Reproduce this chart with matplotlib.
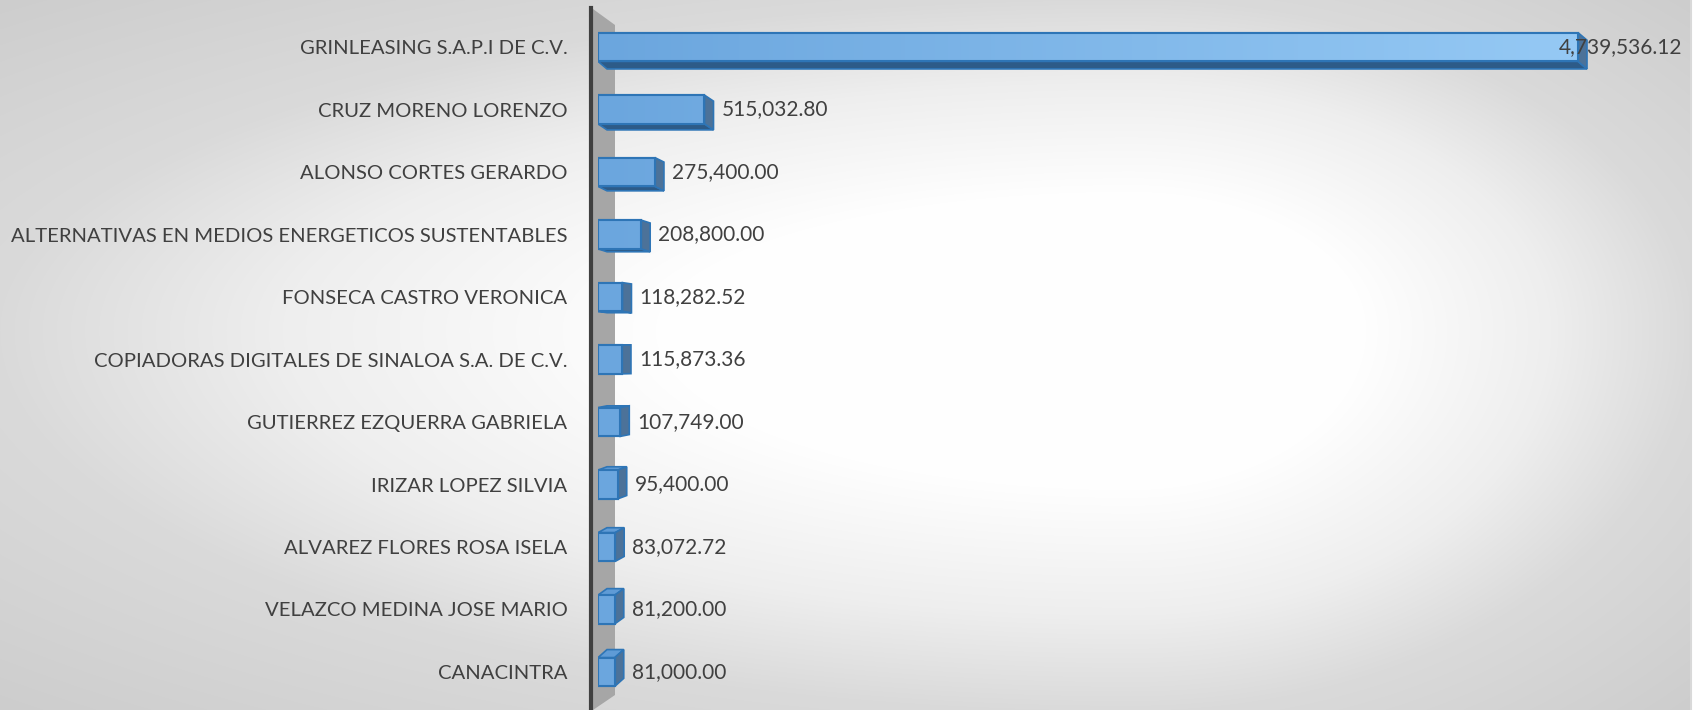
import numpy as np
import matplotlib
matplotlib.use('Agg')
from matplotlib import pyplot as plt, patches as mpatches
from matplotlib.colors import LinearSegmentedColormap

# Data (top to bottom)
categories = ['GRINLEASING S.A.P.I DE C.V.',
              'CRUZ MORENO LORENZO',
              'ALONSO CORTES GERARDO',
              'ALTERNATIVAS EN MEDIOS ENERGETICOS SUSTENTABLES',
              'FONSECA CASTRO VERONICA',
              'COPIADORAS DIGITALES DE SINALOA S.A. DE C.V.',
              'GUTIERREZ EZQUERRA GABRIELA',
              'IRIZAR LOPEZ SILVIA',
              'ALVAREZ FLORES ROSA ISELA',
              'VELAZCO MEDINA JOSE MARIO',
              'CANACINTRA']
values = [4739536.12, 515032.80, 275400.00, 208800.00, 118282.52,
          115873.36, 107749.00, 95400.00, 83072.72, 81200.00, 81000.00]

W, H = 1704, 710
plt.rcParams['font.family'] = ['Lato', 'DejaVu Sans']
fig = plt.figure(figsize=(W / 100, H / 100), dpi=100)
fig.patch.set_facecolor('white')

# background: radial-ish gradient, white near centre right
plot_w = 1691
bg = fig.add_axes([0, 0, plot_w / W, 1])
xx, yy = np.meshgrid(np.arange(plot_w), np.arange(H))
cx, cy = 1130, 330
ex = np.where(xx < cx, cx, plot_w - cx)
ey = np.where(yy < cy, cy, H - cy)
t = np.sqrt(((xx - cx) / ex) ** 2 + ((yy - cy) / ey) ** 2)
g = np.interp(t, [0, 0.42, 0.75, 1.0, 1.45], [255, 254, 238, 218, 204]) / 255
bg.imshow(np.dstack([g, g, g]), aspect='auto', interpolation='bilinear')
bg.axis('off')
fig.add_artist(plt.Line2D([plot_w / W, plot_w / W], [0, 1], color='#d9d9d9', lw=1.5))

# main axes
x0_px = 598
ax = fig.add_axes([x0_px / W, 0, (plot_w - x0_px) / W, 1])
ax.patch.set_alpha(0)
n = len(values)
ypos = np.arange(n)[::-1]
row_px = 62.5
xmax = values[0] * (plot_w - x0_px) / 980
ax.set_xlim(0, xmax)
ax.set_ylim(-(H - 672) / row_px, (n - 1) + 47 / row_px)
xpd = xmax / (plot_w - x0_px)   # data per pixel
ypd = 1 / row_px

def px(x, y):
    return (x / W, 1 - y / H)

# side wall
wall = mpatches.Polygon([px(593, 9), px(615, 25), px(615, 695), px(593, 710)],
                        closed=True, transform=fig.transFigure, facecolor='#a6a6a6',
                        edgecolor='none', clip_on=False, zorder=1)
ax.add_patch(wall)
ax.add_line(plt.Line2D([591 / W, 591 / W], [0, 1 - 8 / H], transform=fig.transFigure,
                       color='#404040', lw=3, clip_on=False, zorder=1.5))

# bars
bh = 0.46
bars = ax.barh(ypos, values, height=bh, color='#6aa6df', edgecolor='#2e75b6',
               linewidth=1.5, zorder=3)

cmap = LinearSegmentedColormap.from_list('bar', ['#6ba6de', '#9acdf7'])
grad = np.linspace(0, 1, 256).reshape(1, -1)
depth = 9 * xpd
for b, v, y in zip(bars, values, ypos):
    yc_px = (ax.get_ylim()[1] - y) * row_px
    dy = -(350 - yc_px) * 0.025 * ypd
    yb, yt = y - bh / 2, y + bh / 2
    side = mpatches.Polygon([(v, yb), (v, yt), (v + depth, yt + dy), (v + depth, yb + dy)],
                            facecolor='#4c7299', edgecolor='#2e75b6', lw=1.2, zorder=2.5)
    ax.add_patch(side)
    if dy < 0:
        face = [(0, yb), (v, yb), (v + depth, yb + dy), (depth, yb + dy)]
        fc = '#2d5b88'
    else:
        face = [(0, yt), (v, yt), (v + depth, yt + dy), (depth, yt + dy)]
        fc = '#5f9bd6'
    ax.add_patch(mpatches.Polygon(face, facecolor=fc, edgecolor='#2e75b6', lw=1.2, zorder=2.4))
    im = ax.imshow(grad, cmap=cmap, aspect='auto', extent=(0, xmax, yb, yt), zorder=3.1)
    im.set_clip_path(b)
    ax.add_patch(mpatches.Rectangle((0, yb), v, bh, facecolor='none', edgecolor='#2e75b6',
                                    lw=1.5, zorder=3.2))
    label = f'{v:,.2f}'
    if v > 0.8 * xmax:
        ax.text(xmax - 9 * xpd, y, label, ha='right', va='center', fontsize=15,
                color='#404040', zorder=4)
    else:
        ax.text(v + depth + 8 * xpd, y, label, ha='left', va='center', fontsize=15,
                color='#404040', zorder=4)

ax.set_xlim(0, xmax)
ax.set_yticks(ypos)
ax.set_yticklabels(categories, fontsize=14.6, color='#404040')
ax.tick_params(axis='y', length=0, pad=22)
ax.set_xticks([])
for s in ax.spines.values():
    s.set_visible(False)

fig.savefig('out.png', dpi=100)
